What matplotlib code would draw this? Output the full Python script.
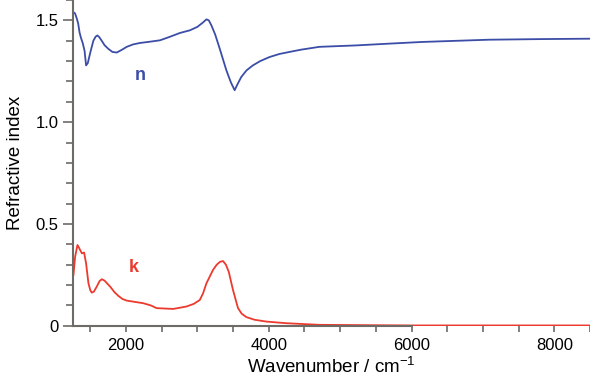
import matplotlib.pyplot as plt
from matplotlib.ticker import MultipleLocator, FuncFormatter

plt.rcParams['font.family'] = ['Liberation Sans', 'DejaVu Sans']

# refractive index n
n_wn = [1265, 1287, 1310, 1330, 1350, 1367, 1395, 1420, 1441, 1465, 1497, 1543, 1575, 1599,
        1625, 1660, 1700, 1753, 1810, 1870, 1940, 2010, 2100, 2196, 2330, 2475, 2620,
        2754, 2894, 3000, 3080, 3127, 3160, 3197, 3250, 3313, 3406, 3470, 3522, 3560,
        3615, 3690, 3778, 3880, 4011, 4150, 4291, 4450, 4709, 5000, 5222, 5700, 6150,
        7084, 7800, 8500]
n_val = [1.54, 1.534, 1.51, 1.485, 1.44, 1.417, 1.387, 1.35, 1.279, 1.29, 1.338, 1.40, 1.42, 1.426,
         1.418, 1.40, 1.378, 1.36, 1.345, 1.342, 1.355, 1.37, 1.382, 1.389, 1.395, 1.402, 1.42,
         1.438, 1.451, 1.468, 1.49, 1.505, 1.5, 1.475, 1.43, 1.361, 1.255, 1.195, 1.157, 1.185,
         1.222, 1.255, 1.279, 1.30, 1.32, 1.335, 1.345, 1.356, 1.37, 1.374, 1.377, 1.386, 1.394,
         1.405, 1.408, 1.41]

# extinction coefficient k
k_wn = [1264, 1288, 1320, 1340, 1358, 1382, 1413, 1441, 1474, 1500, 1521, 1550, 1591, 1630,
        1661, 1700, 1777, 1840, 1894, 1950, 2010, 2243, 2350, 2429, 2661, 2848, 2950,
        3034, 3080, 3127, 3220, 3270, 3320, 3360, 3400, 3440, 3499, 3569, 3620, 3686, 3800,
        3965, 4244, 4709, 5500, 6000, 8500]
k_val = [0.25, 0.34, 0.397, 0.385, 0.372, 0.356, 0.36, 0.307, 0.209, 0.175, 0.163, 0.168, 0.193, 0.22,
         0.229, 0.222, 0.193, 0.165, 0.147, 0.132, 0.124, 0.111, 0.1, 0.087, 0.083, 0.095, 0.108,
         0.127, 0.16, 0.209, 0.275, 0.3, 0.315, 0.318, 0.3, 0.265, 0.176, 0.087, 0.06, 0.043, 0.03,
         0.021, 0.013, 0.005, 0.003, 0.002, 0.002]

fig = plt.figure(figsize=(5.9, 3.82), dpi=100)
ax = fig.add_axes([0.124, 0.147, 0.876, 0.853])

ax.plot(n_wn, n_val, color='#3b4da6', lw=1.3, zorder=2)
ax.plot(k_wn, k_val, color='#ec3a2e', lw=1.3, zorder=2)

ax.text(2200, 1.23, 'n', color='#3b4da6', fontsize=13, fontweight='bold', ha='center', va='center')
ax.text(2110, 0.285, 'k', color='#ec3a2e', fontsize=13, fontweight='bold', ha='center', va='center')

ax.set_xlim(1260, 8500)
ax.set_ylim(0, 1.6)

ax.spines['top'].set_visible(False)
ax.spines['right'].set_visible(False)
for s in ['left', 'bottom']:
    ax.spines[s].set_color('#6e6a66')
    ax.spines[s].set_linewidth(1.5)
    ax.spines[s].set_zorder(3)
ax.spines['bottom'].set_bounds(1260, 6000)

ax.xaxis.set_major_locator(MultipleLocator(2000))
ax.xaxis.set_minor_locator(MultipleLocator(500))
ax.yaxis.set_major_locator(MultipleLocator(0.5))
ax.yaxis.set_minor_locator(MultipleLocator(0.1))
ax.yaxis.set_major_formatter(FuncFormatter(lambda v, p: '0' if v == 0 else f'{v:.1f}'))

ax.tick_params(which='both', direction='out', color='#6e6a66', width=1.2, labelsize=12)
ax.tick_params(axis='y', which='major', length=7)
ax.tick_params(axis='y', which='minor', length=5)
ax.tick_params(axis='x', which='both', length=4, pad=5)

ax.set_xlabel(r'Wavenumber / cm$^{\mathregular{-1}}$', fontsize=13.5, labelpad=2)
ax.set_ylabel('Refractive index', fontsize=13.5, labelpad=8)

fig.savefig('out.png', dpi=100)
